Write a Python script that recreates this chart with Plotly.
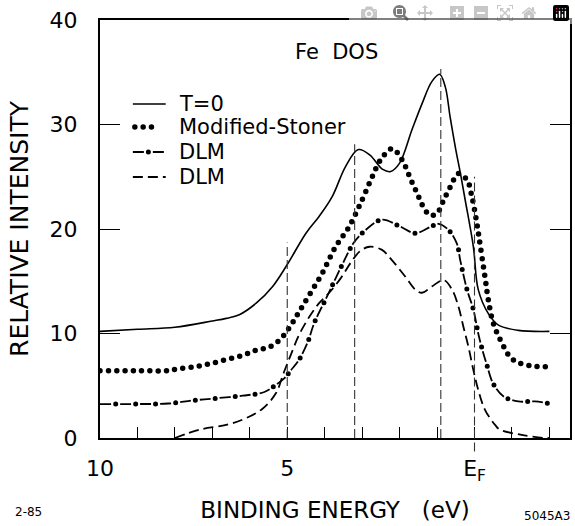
import json
import plotly.graph_objects as go

# ---------------- data ----------------
t0_E = [10, 9, 8, 7, 6.63, 6.28, 5.83, 5.39, 5.0, 4.5, 4.15, 3.8, 3.44, 3.1, 2.8, 2.45, 2.24,
        2.0, 1.67, 1.4, 1.14, 0.93, 0.78, 0.65, 0.5, 0.38, 0.25, 0.03, -0.1, -0.37, -0.64, -1.17, -2.0]
t0_I = [10.2, 10.4, 10.6, 11.2, 11.45, 11.8, 12.9, 14.5, 16.6, 19.6, 21.2, 23.1, 26.0, 27.6, 27.1, 25.7, 25.5,
        26.3, 29.5, 32.0, 34.1, 34.8, 33.6, 30.7, 27.6, 25.4, 22.8, 18.3, 14.2, 11.9, 10.8, 10.3, 10.2]

stoner_E = [10, 9, 8.2, 7.93, 7.5, 7.07, 6.63, 6.19, 5.83, 5.48, 5.17, 4.9, 4.68, 4.41, 4.06, 3.71, 3.35,
            3.0, 2.73, 2.51, 2.2, 1.93, 1.71, 1.53, 1.38, 1.18, 1.0, 0.82, 0.65, 0.43, 0.2, 0.07,
            -0.06, -0.15, -0.28, -0.37, -0.5, -0.73, -0.99, -1.35, -2.0]
stoner_I = [6.44, 6.44, 6.45, 6.6, 6.8, 7.1, 7.5, 7.9, 8.4, 8.7, 9.5, 10.8, 12.1, 13.7, 15.8, 18.3, 20.2,
            22.8, 25.0, 26.6, 27.7, 26.6, 24.8, 23.4, 22.2, 21.3, 21.5, 22.8, 24.0, 25.3, 24.7, 23.1,
            20.6, 18.5, 15.4, 13.2, 11.0, 9.1, 7.6, 7.0, 6.8]

dlm1_E = [10, 9, 8.18, 7.5, 6.9, 6.19, 5.61, 5.3, 5.08, 4.9, 4.7, 4.45, 4.28, 3.93, 3.53, 3.22, 2.91,
          2.47, 2.02, 1.58, 1.18, 0.96, 0.69, 0.47, 0.38, 0.2, 0.03, -0.1, -0.19, -0.33, -0.5, -0.77,
          -1.17, -1.61, -2.0]
dlm1_I = [3.25, 3.25, 3.3, 3.6, 3.8, 4.05, 4.4, 5.1, 5.7, 6.5, 7.4, 9.2, 11.0, 13.6, 16.6, 18.7, 19.9,
          20.9, 20.3, 19.6, 20.2, 20.5, 19.9, 18.6, 17.0, 14.2, 12.3, 10.0, 8.7, 7.0, 5.2, 4.0,
          3.5, 3.5, 3.3]

dlm2_E = [8.0, 7.34, 6.63, 6.1, 5.66, 5.3, 5.1, 4.9, 4.68, 4.41, 4.15, 3.88, 3.57, 3.3, 3.05, 2.8,
          2.47, 2.2, 1.84, 1.58, 1.4, 1.14, 0.82, 0.6, 0.43, 0.3, 0.16, 0.03, -0.1, -0.28, -0.55,
          -0.68, -1.26, -1.88, -2.0]
dlm2_I = [0.0, 0.8, 1.25, 1.9, 2.8, 4.3, 6.2, 8.0, 9.9, 11.6, 12.9, 13.9, 15.3, 16.8, 17.9, 18.3,
          18.0, 17.0, 15.4, 14.2, 13.9, 14.5, 15.1, 14.2, 12.6, 10.7, 8.7, 6.5, 4.6, 2.7, 1.25,
          0.8, 0.3, 0.0, 0.0]

# vertical reference lines (energy, bottom, top)
ref_E = [5, 3.2, 0.9, 0]
ref_bottom = [0, 0, 0, -1.3]
ref_top = [18.7, 28.1, 35.3, 25.0]

series_names = ["T=0", "Modified-Stoner", "DLM", "DLM"]

x_tick_vals = [10, 9, 8, 7, 6, 5, 4, 3, 2, 1, 0, -1, -2]
x_tick_text = ["10", "", "", "", "", "5", "", "", "", "", "E<sub>F</sub>", "", ""]
y_tick_vals = [0, 10, 20, 30, 40]
y_tick_text = ["0", "10", "20", "30", "40"]

X_RANGE = [10, -2.55]
Y_RANGE = [0, 40]

# ---------------- styling ----------------
FONT = "DejaVu Sans"
BLACK = "#000000"
DOT_COLOR = "rgb(0,0,1)"       # round-capped dotted line (Modified-Stoner)
DD_DOT_COLOR = "rgb(1,0,0)"    # round-capped dots of the dash-dot line

W, H = 575, 526
ML, MR, MT, MB = 100, 3, 20, 88
PW, PH = W - ML - MR, H - MT - MB

def px_x(p):  # pixel -> paper x
    return (p - ML) / PW

def px_y(p):  # pixel -> paper y
    return (H - MB - p) / PH

fig = go.Figure()

fig.add_trace(go.Scatter(x=t0_E, y=t0_I, mode="lines", name=series_names[0], showlegend=False,
                         line=dict(color=BLACK, width=1.6, shape="spline")))
fig.add_trace(go.Scatter(x=stoner_E, y=stoner_I, mode="lines", name=series_names[1], showlegend=False,
                         line=dict(color=DOT_COLOR, width=5.5, dash="0px,8.3px", shape="spline")))
fig.add_trace(go.Scatter(x=dlm1_E, y=dlm1_I, mode="lines", name=series_names[2], showlegend=False,
                         line=dict(color=BLACK, width=1.8, dash="11px,9px", shape="spline")))
fig.add_trace(go.Scatter(x=dlm1_E, y=dlm1_I, mode="lines", name=series_names[2] + " dots",
                         showlegend=False, hoverinfo="skip",
                         line=dict(color=DD_DOT_COLOR, width=5, dash="0px,20px", shape="spline")))
fig.add_trace(go.Scatter(x=dlm2_E, y=dlm2_I, mode="lines", name=series_names[3], showlegend=False,
                         line=dict(color=BLACK, width=1.8, dash="10px,5px", shape="spline")))

shapes = []
for e, b, t in zip(ref_E, ref_bottom, ref_top):
    shapes.append(dict(type="line", xref="x", yref="paper", x0=e, x1=e,
                       y0=b / Y_RANGE[1], y1=t / Y_RANGE[1], layer="above",
                       line=dict(color="#333333", width=1.1, dash="9px,4px")))

# manual legend
leg_rows = [104, 127, 152, 177]
leg_x0, leg_x1 = 133, 166
leg_styles = [
    dict(color=BLACK, width=1.6, dash="solid"),
    dict(color=DOT_COLOR, width=5.5, dash="0px,8.3px"),
    dict(color=BLACK, width=1.8, dash="11px,9px"),
    dict(color=BLACK, width=1.8, dash="10px,5px"),
]
annotations = []
for i, (row, st, name) in enumerate(zip(leg_rows, leg_styles, series_names)):
    x1 = 160 if i == 1 else leg_x1
    shapes.append(dict(type="line", xref="paper", yref="paper",
                       x0=px_x(leg_x0 + (2 if i == 1 else 0)), x1=px_x(x1),
                       y0=px_y(row), y1=px_y(row), line=st))
    if i == 2:
        shapes.append(dict(type="line", xref="paper", yref="paper",
                           x0=px_x(leg_x0), x1=px_x(leg_x1), y0=px_y(row), y1=px_y(row),
                           line=dict(color=DD_DOT_COLOR, width=5, dash="0px,20px")))
    annotations.append(dict(xref="paper", yref="paper", x=px_x(177), y=px_y(row),
                            xanchor="left", yanchor="middle", showarrow=False, text=name,
                            font=dict(family=FONT, size=21, color=BLACK)))

annotations.append(dict(xref="paper", yref="paper", x=px_x(338), y=px_y(52),
                        xanchor="center", yanchor="middle", showarrow=False,
                        text="Fe\u00a0\u00a0DOS", font=dict(family=FONT, size=21, color=BLACK)))
annotations.append(dict(xref="paper", yref="paper", x=px_x(13), y=px_y(512),
                        xanchor="left", yanchor="middle", showarrow=False,
                        text="2-85", font=dict(family=FONT, size=12, color=BLACK)))
annotations.append(dict(xref="paper", yref="paper", x=px_x(574), y=px_y(516),
                        xanchor="right", yanchor="middle", showarrow=False,
                        text="5045A3", font=dict(family=FONT, size=12, color=BLACK)))

fig.update_layout(
    width=W, height=H,
    margin=dict(l=ML, r=MR, t=MT, b=MB, pad=0),
    paper_bgcolor="white", plot_bgcolor="white",
    showlegend=False,
    font=dict(family=FONT, color=BLACK),
    shapes=shapes, annotations=annotations,
    xaxis=dict(range=X_RANGE, autorange=False, tickmode="array", tickvals=x_tick_vals,
               ticktext=x_tick_text, ticks="inside", ticklen=11, tickwidth=1.4, tickcolor=BLACK,
               showline=True, linewidth=2, linecolor=BLACK, mirror=True,
               showgrid=False, zeroline=False, ticklabelstandoff=10,
               tickfont=dict(family=FONT, size=22, color=BLACK),
               title=dict(text="BINDING ENERGY\u00a0\u00a0\u00a0(eV)", standoff=18,
                          font=dict(family=FONT, size=23, color=BLACK))),
    yaxis=dict(range=Y_RANGE, autorange=False, tickmode="array", tickvals=y_tick_vals,
               ticktext=y_tick_text, ticks="inside", ticklen=20, tickwidth=1.4, tickcolor=BLACK,
               showline=True, linewidth=2, linecolor=BLACK, mirror="ticks",
               showgrid=False, zeroline=False, ticklabelstandoff=16,
               tickfont=dict(family=FONT, size=22, color=BLACK),
               title=dict(text="RELATIVE INTENSITY", standoff=14,
                          font=dict(family=FONT, size=25, color=BLACK))),
)

css = """
body { margin: 0 !important; }
path[style*="rgb(0, 0, 1)"] { stroke-linecap: round !important; }
path[style*="rgb(1, 0, 0)"] { stroke-linecap: round !important; stroke-dashoffset: 4.5px !important; }
"""
post = ("var s=document.createElement('style');s.textContent=" + json.dumps(css) +
        ";document.head.appendChild(s);")
fig.write_html("out.html", post_script=post)
